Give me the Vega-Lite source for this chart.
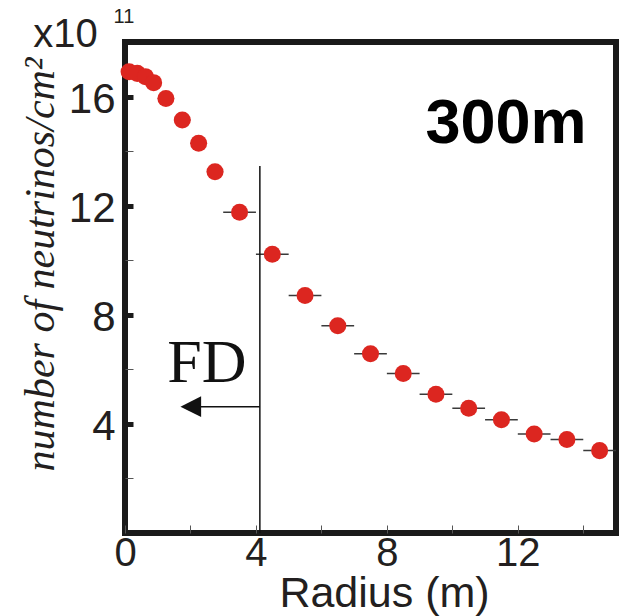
{
  "$schema": "https://vega.github.io/schema/vega-lite/v6.json",
  "autosize": "none",
  "width": 491,
  "height": 491,
  "padding": {"left": 125, "top": 42, "right": 6, "bottom": 83},
  "background": "white",
  "config": {
    "view": {"stroke": "#1a1a1a", "strokeWidth": 6},
    "axis": {"grid": false, "domain": false}
  },
  "encoding": {
    "x": {
      "field": "r", "type": "quantitative",
      "scale": {"domain": [0, 15], "nice": false, "zero": false},
      "axis": {
        "values": [0, 2, 4, 6, 8, 10, 12, 14],
        "labelExpr": "datum.value % 4 === 0 ? datum.label : ''",
        "tickSize": -8, "tickWidth": 1, "tickColor": "#555555",
        "labelFont": "Liberation Sans", "labelFontSize": 40, "labelColor": "#231f20",
        "labelPadding": 8, "labelFlush": false, "labelOverlap": false,
        "title": "Radius (m)",
        "titleFont": "Liberation Sans", "titleFontSize": 43, "titleFontWeight": "normal",
        "titleColor": "#231f20", "titleX": 259, "titleY": 73,
        "titleBaseline": "alphabetic", "titleAlign": "center"
      }
    },
    "y": {
      "field": "n", "type": "quantitative",
      "scale": {"domain": [0, 18], "nice": false, "zero": false},
      "axis": {
        "values": [2, 4, 6, 8, 10, 12, 14, 16],
        "labelExpr": "datum.value % 4 === 0 ? datum.label : ''",
        "tickSize": -8,
        "tickWidth": {"condition": {"test": "datum.value % 4 === 0", "value": 5}, "value": 1},
        "tickColor": {"condition": {"test": "datum.value % 4 === 0", "value": "#1a1a1a"}, "value": "#555555"},
        "labelFont": "Liberation Sans", "labelFontSize": 42, "labelColor": "#231f20",
        "labelPadding": 18, "labelOffset": 3, "labelFlush": false, "labelOverlap": false,
        "title": "number of neutrinos/cm²",
        "titleFont": "Liberation Serif", "titleFontStyle": "italic", "titleFontWeight": "normal",
        "titleFontSize": 42, "titleColor": "#231f20",
        "titleAngle": 270, "titleX": -72, "titleY": 222,
        "titleBaseline": "alphabetic", "titleAlign": "center"
      }
    }
  },
  "layer": [
    {
      "data": {"values": [
        {"r": 0.125, "lo": 0.0, "hi": 0.25, "n": 16.91},
        {"r": 0.375, "lo": 0.25, "hi": 0.5, "n": 16.85},
        {"r": 0.625, "lo": 0.5, "hi": 0.75, "n": 16.73},
        {"r": 0.875, "lo": 0.75, "hi": 1.0, "n": 16.51},
        {"r": 1.25, "lo": 1.0, "hi": 1.5, "n": 15.93},
        {"r": 1.75, "lo": 1.5, "hi": 2.0, "n": 15.14},
        {"r": 2.25, "lo": 2.0, "hi": 2.5, "n": 14.29},
        {"r": 2.75, "lo": 2.5, "hi": 3.0, "n": 13.24},
        {"r": 3.5, "lo": 3.0, "hi": 4.0, "n": 11.76},
        {"r": 4.5, "lo": 4.0, "hi": 5.0, "n": 10.22},
        {"r": 5.5, "lo": 5.0, "hi": 6.0, "n": 8.71},
        {"r": 6.5, "lo": 6.0, "hi": 7.0, "n": 7.6},
        {"r": 7.5, "lo": 7.0, "hi": 8.0, "n": 6.57},
        {"r": 8.5, "lo": 8.0, "hi": 9.0, "n": 5.85},
        {"r": 9.5, "lo": 9.0, "hi": 10.0, "n": 5.09},
        {"r": 10.5, "lo": 10.0, "hi": 11.0, "n": 4.57},
        {"r": 11.5, "lo": 11.0, "hi": 12.0, "n": 4.15},
        {"r": 12.5, "lo": 12.0, "hi": 13.0, "n": 3.63},
        {"r": 13.5, "lo": 13.0, "hi": 14.0, "n": 3.43},
        {"r": 14.5, "lo": 14.0, "hi": 15.0, "n": 3.02}
      ]},
      "layer": [
        {
          "mark": {"type": "rule", "color": "#3a3a3a", "strokeWidth": 1.5},
          "encoding": {"x": {"field": "lo", "type": "quantitative"}, "x2": {"field": "hi"}}
        },
        {
          "mark": {"type": "point", "shape": "circle", "filled": true, "size": 290, "color": "#dc2620", "opacity": 1}
        }
      ]
    },
    {
      "data": {"values": [{"r": 4.12, "n": 0, "n2": 13.45}]},
      "mark": {"type": "rule", "color": "#111111", "strokeWidth": 1.5},
      "encoding": {"y2": {"field": "n2"}}
    },
    {
      "data": {"values": [{"r": 2.2, "r2": 4.12, "n": 4.63}]},
      "mark": {"type": "rule", "color": "#111111", "strokeWidth": 1.5},
      "encoding": {"x2": {"field": "r2"}}
    },
    {
      "data": {"values": [{"r": 2.01, "n": 4.63}]},
      "mark": {"type": "point", "shape": "M-1,0L1,-1L1,1Z", "filled": true, "size": 428, "color": "#111111", "opacity": 1}
    },
    {
      "data": {"values": [{"r": 1.29, "n": 5.55, "label": "FD"}]},
      "mark": {"type": "text", "font": "Liberation Serif", "fontSize": 62, "align": "left", "baseline": "alphabetic", "color": "#111111"},
      "encoding": {"text": {"field": "label"}}
    },
    {
      "data": {"values": [{"r": 9.18, "n": 14.29, "label": "300m"}]},
      "mark": {"type": "text", "font": "Liberation Sans", "fontWeight": "bold", "fontSize": 63, "align": "left", "baseline": "alphabetic", "color": "#000000"},
      "encoding": {"text": {"field": "label"}}
    },
    {
      "data": {"values": [{"r": -2.8, "n": 17.83, "label": "x10"}]},
      "mark": {"type": "text", "font": "Liberation Sans", "fontSize": 40, "align": "left", "baseline": "alphabetic", "color": "#231f20"},
      "encoding": {"text": {"field": "label"}}
    },
    {
      "data": {"values": [{"r": -0.35, "n": 18.7, "label": "11"}]},
      "mark": {"type": "text", "font": "Liberation Sans", "fontSize": 20, "align": "left", "baseline": "alphabetic", "color": "#231f20"},
      "encoding": {"text": {"field": "label"}}
    }
  ]
}
